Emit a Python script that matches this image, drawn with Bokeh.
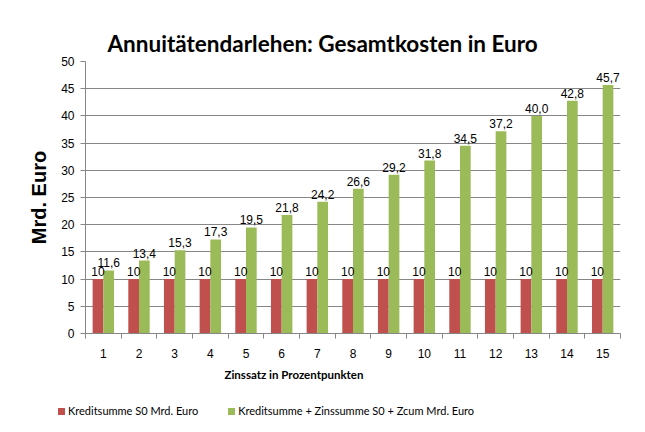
from bokeh.plotting import figure
from bokeh.layouts import column
from bokeh.models import ColumnDataSource, FixedTicker, LabelSet, Title, Div
from bokeh.core.properties import value
from bokeh.transform import dodge
from bokeh.embed import file_html
from bokeh.resources import INLINE

zinssatz = list(range(1, 16))
kreditsumme = [10] * 15
gesamtkosten = [11.6, 13.4, 15.3, 17.3, 19.5, 21.8, 24.2, 26.6, 29.2, 31.8, 34.5, 37.2, 40.0, 42.8, 45.7]
y_ticks = [0, 5, 10, 15, 20, 25, 30, 35, 40, 45, 50]
series_names = ["Kreditsumme S0 Mrd. Euro", "Kreditsumme + Zinssumme S0 + Zcum Mrd. Euro"]

RED = "#C0504D"
GREEN = "#9BBB59"
GRID = "#868686"

src = ColumnDataSource(dict(
    x=zinssatz,
    k=kreditsumme,
    g=gesamtkosten,
    kl=[str(v) for v in kreditsumme],
    gl=[("%.1f" % v).replace(".", ",") for v in gesamtkosten],
))

p = figure(width=645, height=392, output_backend="svg", toolbar_location=None,
           x_range=(0.5, 15.5), y_range=(0, 50),
           min_border_left=85, min_border_right=25, min_border_top=61, min_border_bottom=59)
p.title = None

r1 = p.vbar(x=dodge("x", -0.15), top="k", width=0.3, source=src, fill_color=RED, line_color=None)
r2 = p.vbar(x=dodge("x", 0.15), top="g", width=0.3, source=src, fill_color=GREEN, line_color=None)

for col, lab, off in (("k", "kl", -0.15), ("g", "gl", 0.15)):
    p.add_layout(LabelSet(x=dodge("x", off), y=col, text=lab, source=src,
                          text_align="center", text_baseline="bottom", y_offset=3,
                          text_font=value("Liberation Sans"), text_font_size=value("12px"),
                          text_color=value("#000000")))

p.outline_line_color = None
p.background_fill_color = "white"
p.border_fill_color = "white"
p.xgrid.grid_line_color = None
p.ygrid.grid_line_color = GRID
p.ygrid.ticker = FixedTicker(ticks=y_ticks)

p.yaxis.ticker = FixedTicker(ticks=y_ticks)
p.yaxis.axis_line_color = GRID
p.yaxis.major_tick_line_color = GRID
p.yaxis.major_tick_out = 5
p.yaxis.major_tick_in = 0
p.yaxis.minor_tick_line_color = None
p.yaxis.major_label_text_font = "Liberation Sans"
p.yaxis.major_label_text_font_size = "12px"
p.yaxis.major_label_text_color = "#000000"
p.yaxis.major_label_standoff = 6
p.yaxis.axis_label = "Mrd. Euro"
p.yaxis.axis_label_text_font = "Liberation Sans"
p.yaxis.axis_label_text_font_style = "bold"
p.yaxis.axis_label_text_font_size = "20px"
p.yaxis.axis_label_text_color = "#000000"
p.yaxis.axis_label_standoff = 8

p.xaxis.ticker = FixedTicker(ticks=zinssatz, minor_ticks=[z - 0.5 for z in zinssatz] + [15.5])
p.xaxis.axis_line_color = GRID
p.xaxis.major_tick_line_color = None
p.xaxis.minor_tick_line_color = GRID
p.xaxis.minor_tick_out = 5
p.xaxis.minor_tick_in = 0
p.xaxis.major_label_text_font = "Liberation Sans"
p.xaxis.major_label_text_font_size = "12px"
p.xaxis.major_label_text_color = "#000000"
p.xaxis.major_label_standoff = 9

p.add_layout(Title(text="Annuitätendarlehen: Gesamtkosten in Euro", align="left", offset=22,
                   text_font="Lato", text_font_style="bold", text_font_size="22.5px",
                   text_color="#000000"), "above")

p.add_layout(Title(text="Zinssatz in Prozentpunkten", align="left", offset=139,
                   text_font="Lato", text_font_style="bold", text_font_size="11.5px",
                   text_color="#000000"), "below")

# legend strip below the chart
def legend_item(color, label, gap):
    return ('<span style="display:inline-block;margin-right:%dpx;white-space:nowrap">'
            '<span style="display:inline-block;width:7px;height:7px;background:%s;'
            'margin-right:3px;vertical-align:middle"></span>'
            '<span style="vertical-align:middle">%s</span></span>' % (gap, color, label))

legend_html = ('<div style="padding-left:58px;padding-top:10px;font-family:Lato;'
               'font-size:11px;line-height:16px;color:#000000;white-space:nowrap">'
               + legend_item(RED, series_names[0], 30)
               + legend_item(GREEN, series_names[1], 0) + '</div>')
lg = Div(text=legend_html, width=645, height=40, margin=0)

open("out.html", "w").write(file_html(column(p, lg, spacing=0), INLINE))
